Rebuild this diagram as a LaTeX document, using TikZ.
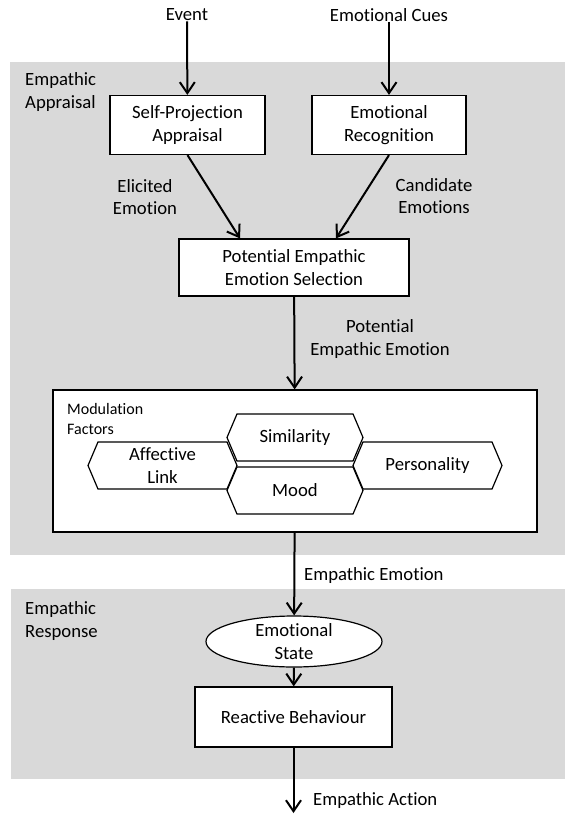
\documentclass[tikz,border=0pt]{standalone}
\usepackage{fontspec}
\setmainfont{Carlito}[RawFeature={-liga}]
\usetikzlibrary{arrows.meta,shapes.geometric,shapes.symbols}
\newcommand{\arw}{-{Straight Barb[length=11pt,width=15pt]}}
\definecolor{stagegray}{RGB}{217,217,217}

\begin{document}
\begin{tikzpicture}[x=1pt,y=-1pt,
  every node/.style={font=\fontsize{18.7}{22.5}\selectfont,align=center,inner sep=0pt},
  procbox/.style={draw,fill=white,line width=1.2pt},
  factor/.style={draw,fill=white,line width=1.2pt,shape=signal,signal to=west and east,
    signal pointer angle=134,minimum height=47pt},
  small/.style={font=\fontsize{16}{19.5}\selectfont,align=left},
  flow/.style={line width=2pt,\arw}]
\useasboundingbox (0,0) rectangle (565,814);
% stages
\fill[stagegray] (10,62) rectangle (565,555);
\fill[stagegray] (11,589) rectangle (565,779);
\node[anchor=west,align=left] (appr) at (25,92) {Empathic\\Appraisal};
\node[anchor=west,align=left] (resp) at (25,621) {Empathic\\Response};
% inputs
\node (event) at (187,15) {Event};
\node (cues) at (389,15) {Emotional Cues};
\node[procbox,minimum width=155pt,minimum height=59pt] (spa) at (187.5,125) {Self-Projection\\Appraisal};
\node[procbox,minimum width=154pt,minimum height=59pt] (er) at (389,125) {Emotional\\Recognition};
\node[procbox,minimum width=230pt,minimum height=57pt] (pees) at (294,267.5) {Potential Empathic\\Emotion Selection};
\draw[flow] (event) -- (spa);
\draw[flow] (cues) -- (er);
\draw[flow] (spa.south) -- ([xshift=-54pt]pees.north);
\draw[flow] (er.south) -- ([xshift=42pt]pees.north);
\node (elic) at (145,197) {Elicited\\Emotion};
\node (cand) at (434,196) {Candidate\\Emotions};
% modulation
\node[procbox,minimum width=484pt,minimum height=142pt] (mod) at (295,461) {};
\node[small,anchor=west] (modlbl) at (67,419) {Modulation\\Factors};
\node[factor,minimum width=136pt] (sim) at (295,437.5) {Similarity};
\node[factor,minimum width=136pt] (mood) at (295,490.5) {Mood};
\node[factor,minimum width=149pt] (aff) at (162.5,465.5) {Affective\\Link};
\node[factor,minimum width=149pt] (pers) at (427.5,465.5) {Personality};
\draw[flow] (pees) -- (mod);
\node (pee) at (380,339) {Potential\\Empathic Emotion};
% response
\node[procbox,ellipse,minimum width=176pt,minimum height=51pt] (state) at (294,641.5) {Emotional\\State};
\node[procbox,minimum width=197pt,minimum height=60pt] (react) at (293.5,717) {Reactive Behaviour};
\coordinate (out) at (293.5,813);
\draw[flow] (mod) -- (state);
\draw[flow] (state) -- (react);
\draw[flow] (react) -- (out);
\node[anchor=west] (ee) at (304,576) {Empathic Emotion};
\node[anchor=west] (ea) at (313,801) {Empathic Action};
\end{tikzpicture}
\end{document}
